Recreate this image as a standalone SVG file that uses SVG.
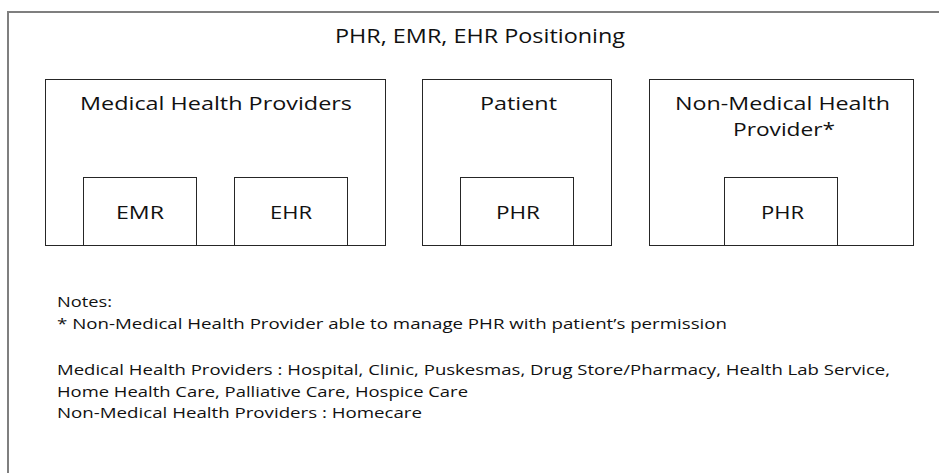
<svg xmlns="http://www.w3.org/2000/svg" width="939" height="473" viewBox="0 0 939 473">
  <style>
    .frame { fill: #ffffff; stroke: #7f7f7f; stroke-width: 2; }
    .box { fill: #ffffff; stroke: #262626; stroke-width: 1; }
    text { font-family: "Open Sans", "Noto Sans", "Liberation Sans", sans-serif; fill: #111111; }
    .title { font-size: 19.5px; }
    .label { font-size: 18.5px; }
    .note { font-size: 15px; }
  </style>

  <!-- outer frame (runs past the right and bottom edges) -->
  <rect class="frame" x="8" y="12" width="945" height="475"/>
  <text class="title" x="335" y="43" textLength="290" lengthAdjust="spacingAndGlyphs">PHR, EMR, EHR Positioning</text>

  <g id="medical-health-providers">
    <rect class="box" x="45.5" y="79.5" width="340" height="166"/>
    <text class="label" x="80" y="110" textLength="272" lengthAdjust="spacingAndGlyphs">Medical Health Providers</text>
  </g>
  <g id="emr">
    <rect class="box" x="83.5" y="177.5" width="113" height="68"/>
    <text class="label" x="116" y="219" textLength="48" lengthAdjust="spacingAndGlyphs">EMR</text>
  </g>
  <g id="ehr">
    <rect class="box" x="234.5" y="177.5" width="113" height="68"/>
    <text class="label" x="270" y="219" textLength="42" lengthAdjust="spacingAndGlyphs">EHR</text>
  </g>

  <g id="patient">
    <rect class="box" x="422.5" y="79.5" width="189" height="166"/>
    <text class="label" x="480" y="110" textLength="77" lengthAdjust="spacingAndGlyphs">Patient</text>
  </g>
  <g id="patient-phr">
    <rect class="box" x="460.5" y="177.5" width="113" height="68"/>
    <text class="label" x="496" y="219" textLength="44" lengthAdjust="spacingAndGlyphs">PHR</text>
  </g>

  <g id="non-medical-health-provider">
    <rect class="box" x="649.5" y="79.5" width="264" height="166"/>
    <text class="label" x="675" y="110" textLength="215" lengthAdjust="spacingAndGlyphs">Non-Medical Health</text>
    <text class="label" x="733" y="136" textLength="102" lengthAdjust="spacingAndGlyphs">Provider*</text>
  </g>
  <g id="non-medical-phr">
    <rect class="box" x="724.5" y="177.5" width="113" height="68"/>
    <text class="label" x="761" y="219" textLength="43" lengthAdjust="spacingAndGlyphs">PHR</text>
  </g>

  <g id="connectors"/>

  <g id="notes">
    <text class="note" x="57" y="307" textLength="55" lengthAdjust="spacingAndGlyphs">Notes:</text>
    <text class="note" x="57" y="329" textLength="670" lengthAdjust="spacingAndGlyphs">* Non-Medical Health Provider able to manage PHR with patient’s permission</text>
    <text class="note" x="57" y="375" textLength="833" lengthAdjust="spacingAndGlyphs">Medical Health Providers : Hospital, Clinic, Puskesmas, Drug Store/Pharmacy, Health Lab Service,</text>
    <text class="note" x="57" y="397" textLength="411" lengthAdjust="spacingAndGlyphs">Home Health Care, Palliative Care, Hospice Care</text>
    <text class="note" x="57" y="418" textLength="365" lengthAdjust="spacingAndGlyphs">Non-Medical Health Providers : Homecare</text>
  </g>
</svg>
